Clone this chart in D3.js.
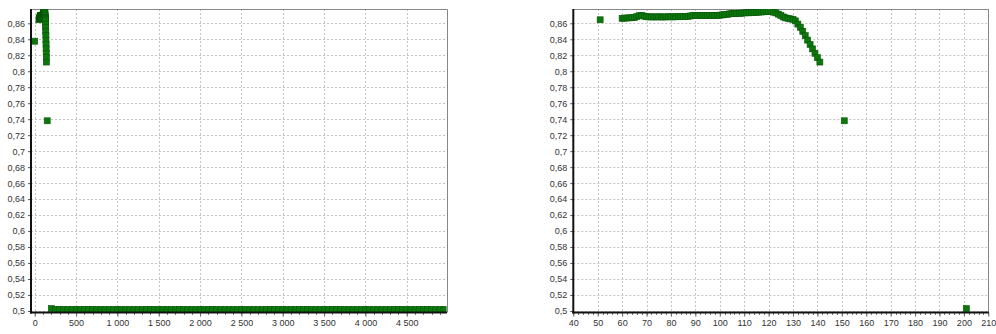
<!DOCTYPE html>
<html>
<head>
<meta charset="utf-8">
<script src="https://cdn.jsdelivr.net/npm/d3@7"></script>
<style>
    body { margin: 0; background: #fff; }
    svg { display: block; }
    .tick text { font-family: "Liberation Sans", Arial, sans-serif; font-size: 9px; fill: #333; }
</style>
</head>
<body>
<div id="chart"></div>
<script>
// first two points (x = parameter, y = score)
var headX = [0, 51];
var headY = [0.8376, 0.8644];

// dense run 60..141
var bandX = [60, 61, 62, 63, 64, 65, 66, 67, 68, 69,
    70, 71, 72, 73, 74, 75, 76, 77, 78, 79,
    80, 81, 82, 83, 84, 85, 86, 87, 88, 89,
    90, 91, 92, 93, 94, 95, 96, 97, 98, 99,
    100, 101, 102, 103, 104, 105, 106, 107, 108, 109,
    110, 111, 112, 113, 114, 115, 116, 117, 118, 119,
    120, 121, 122, 123, 124, 125, 126, 127, 128, 129,
    130, 131, 132, 133, 134, 135, 136, 137, 138, 139,
    140, 141];
var bandY = [0.8662, 0.8665, 0.8667, 0.8668, 0.8670, 0.8672, 0.8685, 0.8695, 0.8700, 0.8690,
    0.8682, 0.8680, 0.8681, 0.8679, 0.8680, 0.8681, 0.8680, 0.8679, 0.8680, 0.8682,
    0.8681, 0.8680, 0.8682, 0.8683, 0.8682, 0.8684, 0.8685, 0.8688, 0.8692, 0.8697,
    0.8700, 0.8699, 0.8698, 0.8700, 0.8698, 0.8697, 0.8699, 0.8698, 0.8697, 0.8700,
    0.8702, 0.8705, 0.8708, 0.8712, 0.8718, 0.8722, 0.8721, 0.8724, 0.8726, 0.8727,
    0.8730, 0.8732, 0.8731, 0.8734, 0.8736, 0.8738, 0.8740, 0.8742, 0.8744, 0.8746,
    0.8747, 0.8745, 0.8740, 0.8730, 0.8715, 0.8698, 0.8680, 0.8668, 0.8662, 0.8655,
    0.8650, 0.8630, 0.8590, 0.8550, 0.8500, 0.8445, 0.8390, 0.8335, 0.8280, 0.8225,
    0.8170, 0.8115];

// sparse tail 151..4951
var tailX = [151,
    201, 251, 301, 351, 401, 451, 501, 551, 601, 651,
    701, 751, 801, 851, 901, 951, 1001, 1051, 1101, 1151,
    1201, 1251, 1301, 1351, 1401, 1451, 1501, 1551, 1601, 1651,
    1701, 1751, 1801, 1851, 1901, 1951, 2001, 2051, 2101, 2151,
    2201, 2251, 2301, 2351, 2401, 2451, 2501, 2551, 2601, 2651,
    2701, 2751, 2801, 2851, 2901, 2951, 3001, 3051, 3101, 3151,
    3201, 3251, 3301, 3351, 3401, 3451, 3501, 3551, 3601, 3651,
    3701, 3751, 3801, 3851, 3901, 3951, 4001, 4051, 4101, 4151,
    4201, 4251, 4301, 4351, 4401, 4451, 4501, 4551, 4601, 4651,
    4701, 4751, 4801, 4851, 4901, 4951];
var tailY = [0.738,
    0.503, 0.502, 0.502, 0.502, 0.502, 0.502, 0.502, 0.502, 0.502, 0.502,
    0.502, 0.502, 0.502, 0.502, 0.502, 0.502, 0.502, 0.502, 0.502, 0.502,
    0.502, 0.502, 0.502, 0.502, 0.502, 0.502, 0.502, 0.502, 0.502, 0.502,
    0.502, 0.502, 0.502, 0.502, 0.502, 0.502, 0.502, 0.502, 0.502, 0.502,
    0.502, 0.502, 0.502, 0.502, 0.502, 0.502, 0.502, 0.502, 0.502, 0.502,
    0.502, 0.502, 0.502, 0.502, 0.502, 0.502, 0.502, 0.502, 0.502, 0.502,
    0.502, 0.502, 0.502, 0.502, 0.502, 0.502, 0.502, 0.502, 0.502, 0.502,
    0.502, 0.502, 0.502, 0.502, 0.502, 0.502, 0.502, 0.502, 0.502, 0.502,
    0.502, 0.502, 0.502, 0.502, 0.502, 0.502, 0.502, 0.502, 0.502, 0.502,
    0.502, 0.502, 0.502, 0.502, 0.502, 0.502];

// tick values
var yTicks = [0.5, 0.52, 0.54, 0.56, 0.58, 0.6, 0.62, 0.64, 0.66, 0.68,
    0.7, 0.72, 0.74, 0.76, 0.78, 0.8, 0.82, 0.84, 0.86];
var fullXTicks = [0, 500, 1000, 1500, 2000, 2500, 3000, 3500, 4000, 4500];
var zoomXTicks = [40, 50, 60, 70, 80, 90, 100, 110, 120, 130, 140, 150, 160, 170, 180, 190, 200, 210];

var points = [];
headX.forEach(function (d, i) { points.push({ x: d, y: headY[i] }); });
bandX.forEach(function (d, i) { points.push({ x: d, y: bandY[i] }); });
tailX.forEach(function (d, i) { points.push({ x: d, y: tailY[i] }); });

var plotTop = 9, plotBottom = 312.5;

var svg = d3.select("#chart")
    .append("svg")
    .attr("width", 996)
    .attr("height", 334);

var locale = d3.formatLocale({ decimal: ",", thousands: " ", grouping: [3], currency: ["", ""] });
var fmtY = locale.format(".2~f"),
    fmtX = locale.format(",d");

var y = d3.scaleLinear().domain([0.4981, 0.8779]).range([plotBottom, plotTop]);

var panels = [
    { left: 31, right: 446.5, domain: [-45, 4981], ticks: fullXTicks, minor: 100 },
    { left: 573.3, right: 988.3, domain: [40, 210], ticks: zoomXTicks, minor: 2 }
];

panels.forEach(function (p, idx) {
    var x = d3.scaleLinear().domain(p.domain).range([p.left, p.right]);
    var g = svg.append("g");

    svg.append("defs").append("clipPath")
        .attr("id", "clip" + idx)
        .append("rect")
        .attr("x", p.left)
        .attr("y", plotTop)
        .attr("width", p.right - p.left)
        .attr("height", plotBottom - plotTop);

    // grid
    g.selectAll(".hgrid")
        .data(yTicks)
        .enter()
        .append("line")
        .attr("x1", p.left)
        .attr("x2", p.right)
        .attr("y1", function (d) { return Math.round(y(d)) + 0.5; })
        .attr("y2", function (d) { return Math.round(y(d)) + 0.5; })
        .attr("stroke", "#c4c4c4")
        .attr("stroke-dasharray", "2,2");

    g.selectAll(".vgrid")
        .data(p.ticks)
        .enter()
        .append("line")
        .attr("x1", function (d) { return Math.round(x(d)) + 0.5; })
        .attr("x2", function (d) { return Math.round(x(d)) + 0.5; })
        .attr("y1", plotTop)
        .attr("y2", plotBottom)
        .attr("stroke", "#c4c4c4")
        .attr("stroke-dasharray", "2,2");

    // border top/right
    g.append("path")
        .attr("d", "M" + p.left + "," + (plotTop + 0.5) + "H" + (Math.round(p.right) + 0.5) + "V" + plotBottom)
        .attr("fill", "none")
        .attr("stroke", "#888");

    // points
    g.append("g")
        .attr("clip-path", "url(#clip" + idx + ")")
        .selectAll("rect")
        .data(points)
        .enter()
        .append("rect")
        .attr("x", function (d) { return x(d.x) - 3; })
        .attr("y", function (d) { return y(d.y) - 3; })
        .attr("width", 6)
        .attr("height", 6)
        .attr("fill", "#0c780c")
        .attr("stroke", "#075507")
        .attr("stroke-width", 0.6);

    // y axis
    var yAxis = d3.axisLeft(y)
        .tickValues(yTicks)
        .tickSize(3)
        .tickPadding(3)
        .tickFormat(fmtY);
    var ya = g.append("g")
        .attr("transform", "translate(" + p.left + ",0)")
        .call(yAxis);
    ya.select(".domain").remove();
    ya.selectAll(".tick line").attr("stroke", "#555");

    // x axis major + minor ticks
    var xAxis = d3.axisBottom(x)
        .tickValues(p.ticks)
        .tickSize(4)
        .tickPadding(3)
        .tickFormat(fmtX);
    var xa = g.append("g")
        .attr("transform", "translate(0," + plotBottom + ")")
        .call(xAxis);
    xa.select(".domain").remove();
    xa.selectAll(".tick line").attr("stroke", "#555");

    var minorTicks = d3.range(Math.ceil(p.domain[0] / p.minor) * p.minor, p.domain[1], p.minor);
    g.selectAll(".minor")
        .data(minorTicks)
        .enter()
        .append("line")
        .attr("x1", function (d) { return Math.round(x(d)) + 0.5; })
        .attr("x2", function (d) { return Math.round(x(d)) + 0.5; })
        .attr("y1", plotBottom)
        .attr("y2", plotBottom + 2.5)
        .attr("stroke", "#777");

    // thick axis lines
    g.append("line")
        .attr("x1", p.left)
        .attr("x2", p.left)
        .attr("y1", plotTop)
        .attr("y2", plotBottom + 1)
        .attr("stroke", "#111")
        .attr("stroke-width", 2);
    g.append("line")
        .attr("x1", p.left - 1)
        .attr("x2", p.right + 0.5)
        .attr("y1", plotBottom)
        .attr("y2", plotBottom)
        .attr("stroke", "#111")
        .attr("stroke-width", 2);
});
</script>
</body>
</html>
